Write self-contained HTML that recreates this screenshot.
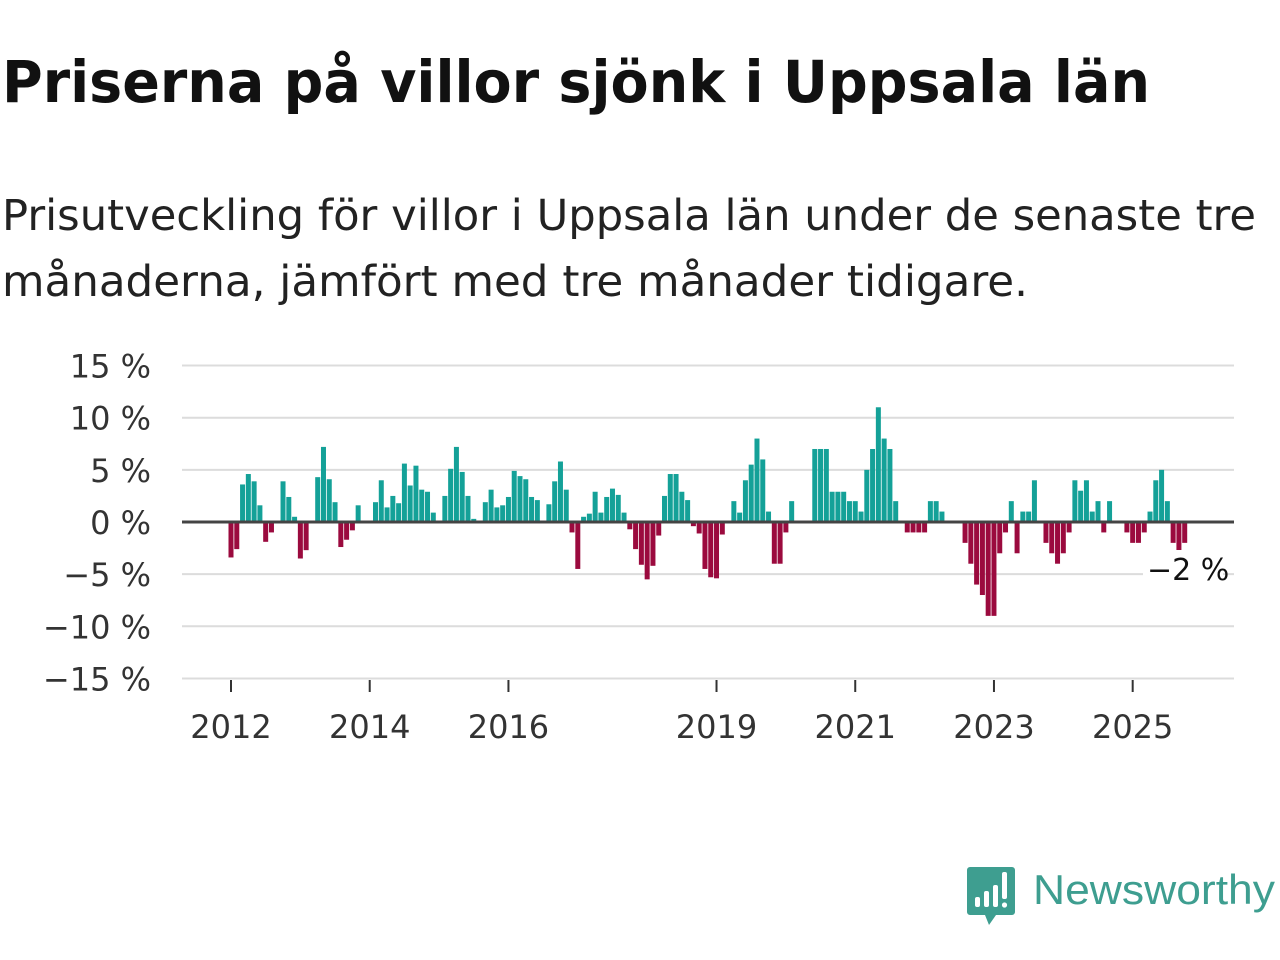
<!DOCTYPE html>
<html><head><meta charset="utf-8">
<style>
body{margin:0;width:1280px;height:960px;background:#fff;font-family:"DejaVu Sans","Liberation Sans",sans-serif;overflow:hidden;position:relative}
svg{position:absolute;left:0;top:0}
</style></head><body>
<svg width="1280" height="330">
<text x="2" y="102" font-size="58" font-weight="bold" fill="#111" textLength="1148" lengthAdjust="spacingAndGlyphs">Priserna på villor sjönk i Uppsala län</text>
<text x="2" y="230" font-size="43" fill="#222" textLength="1254" lengthAdjust="spacingAndGlyphs">Prisutveckling för villor i Uppsala län under de senaste tre</text>
<text x="2" y="296" font-size="43" fill="#222" textLength="1026" lengthAdjust="spacingAndGlyphs">månaderna, jämfört med tre månader tidigare.</text>
</svg>
<svg id="chart" width="1280" height="960"></svg>
<script>
const yTicks=[15,10,5,0,-5,-10,-15];
const yTickLabels=["15 %","10 %","5 %","0 %","\u22125 %","\u221210 %","\u221215 %"];
const xTickYears=[2012,2014,2016,2019,2021,2023,2025];
const startYear=2012;
const values=[
-3.4,-2.6,3.6,4.6,3.9,1.6,-1.9,-1.0,0,3.9,2.4,0.5,
-3.5,-2.7,0,4.3,7.2,4.1,1.9,-2.4,-1.7,-0.8,1.6,0,
0,1.9,4.0,1.4,2.5,1.8,5.6,3.5,5.4,3.1,2.9,0.9,
0,2.5,5.1,7.2,4.8,2.5,0.3,0,1.9,3.1,1.4,1.6,
2.4,4.9,4.4,4.1,2.4,2.1,0,1.7,3.9,5.8,3.1,-1.0,
-4.5,0.5,0.8,2.9,0.9,2.4,3.2,2.6,0.9,-0.7,-2.6,-4.1,
-5.5,-4.2,-1.3,2.5,4.6,4.6,2.9,2.1,-0.4,-1.1,-4.5,-5.3,
-5.4,-1.2,0,2.0,0.9,4.0,5.5,8.0,6.0,1.0,-4.0,-4.0,
-1.0,2.0,0,0,0,7.0,7.0,7.0,2.9,2.9,2.9,2.0,
2.0,1.0,5.0,7.0,11.0,8.0,7.0,2.0,0,-1.0,-1.0,-1.0,
-1.0,2.0,2.0,1.0,0,0,0,-2.0,-4.0,-6.0,-7.0,-9.0,
-9.0,-3.0,-1.0,2.0,-3.0,1.0,1.0,4.0,0,-2.0,-3.0,-4.0,
-3.0,-1.0,4.0,3.0,4.0,1.0,2.0,-1.0,2.0,0,0,-1.0,
-2.0,-2.0,-1.0,1.0,4.0,5.0,2.0,-2.0,-2.7,-2.0];
const lastLabel="\u22122 %";

const svg=document.getElementById('chart');
const NS='http://www.w3.org/2000/svg';
const X0=182,X1=1234;
function y(v){return 522-v*10.43;}
function xm(i){return 231+i*5.78;}
function xy(yr){return 231+(yr-startYear)*12*5.78;}
function mk(t,a,txt){const e=document.createElementNS(NS,t);for(const k in a)e.setAttribute(k,a[k]);if(txt!==undefined)e.textContent=txt;svg.appendChild(e);return e;}
yTicks.forEach((t,i)=>{
  if(t!==0){const g=mk('line',{x1:X0,x2:X1,y1:y(t),y2:y(t),stroke:'#dcdcdc','stroke-width':2});
  
  }
  const l=mk('text',{x:151,y:y(t)+12,'text-anchor':'end','font-size':32,fill:'#333'},yTickLabels[i]);
  
  
});
values.forEach((v,i)=>{
  if(v===0)return;
  const b=mk('rect',{x:xm(i)-2.5,width:5,y:v>0?y(v):522,height:Math.abs(y(v)-522),fill:v>0?'#14a198':'#9b0a3e'});
  
  
});
const z=mk('line',{x1:X0,x2:X1,y1:522,y2:522,stroke:'#444','stroke-width':3});


xTickYears.forEach(yr=>{
  const t=mk('line',{x1:xy(yr),x2:xy(yr),y1:680,y2:692,stroke:'#333','stroke-width':2});
  
  
  const l=mk('text',{x:xy(yr),y:738,'text-anchor':'middle','font-size':32,fill:'#333'},String(yr));
  
  
});
const bg=mk('rect',{x:1143,y:550,width:80,height:36,fill:'#fff'});


const lv=mk('text',{x:1147,y:580,'font-size':30,fill:'#111'},lastLabel);


</script>
<svg width="1280" height="960" style="pointer-events:none">
<path d="M970 867 h42 a3 3 0 0 1 3 3 v42 a3 3 0 0 1 -3 3 h-16 l-7 10 l-4 -10 h-15 a3 3 0 0 1 -3 -3 v-42 a3 3 0 0 1 3 -3z" fill="#3e9e90"/>
<rect x="975" y="897" width="5" height="10" rx="2" fill="#fff"/>
<rect x="984" y="891" width="5" height="16" rx="2" fill="#fff"/>
<rect x="993" y="885" width="5" height="22" rx="2" fill="#fff"/>
<rect x="1002" y="872" width="5" height="27" rx="2" fill="#fff"/>
<circle cx="1004.5" cy="905" r="2.6" fill="#fff"/>
<text x="1033" y="904" font-size="42" fill="#3e9e90" font-family="Liberation Sans, sans-serif" textLength="242" lengthAdjust="spacingAndGlyphs">Newsworthy</text>
</svg>
</body></html>
